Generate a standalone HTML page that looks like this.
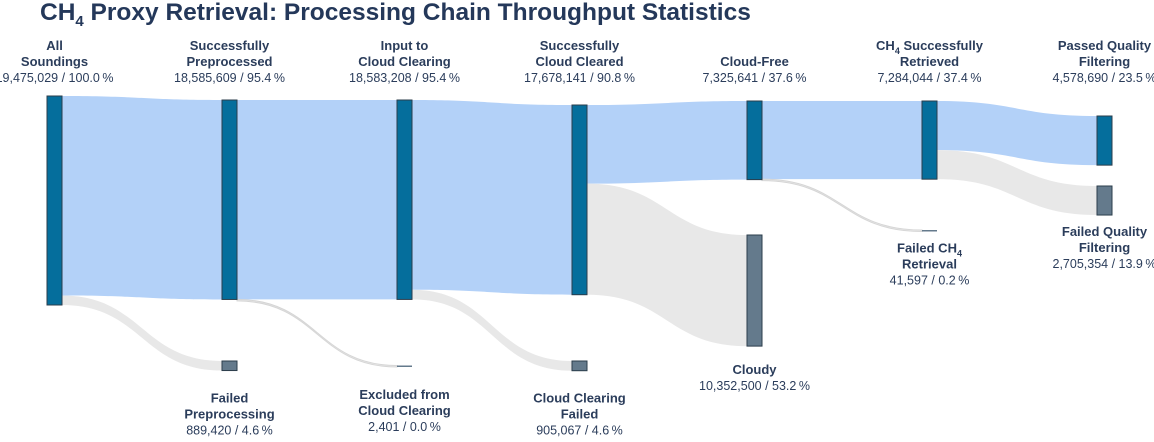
<!DOCTYPE html>
<html><head><meta charset="utf-8"><style>
body{margin:0;background:#fff;width:1154px;height:437px;overflow:hidden;font-family:"Liberation Sans","DejaVu Sans",sans-serif;}
svg text{font-family:"Liberation Sans","DejaVu Sans",sans-serif;fill:#2b3d5b;}
</style></head><body>
<svg id="chart" width="1154" height="437" xmlns="http://www.w3.org/2000/svg">
<text x="40" y="20" font-size="24.5" font-weight="bold" style="fill:#24385a">CH<tspan font-size="15" dy="6">4</tspan><tspan dy="-6"> Proxy Retrieval: Processing Chain Throughput Statistics</tspan></text>
<g id="links"></g><g id="nodes"></g><g id="labels"></g>
</svg>
<script>
const nodeNames=["All|Soundings","Successfully|Preprocessed","Failed|Preprocessing","Input to|Cloud Clearing","Excluded from|Cloud Clearing","Successfully|Cloud Cleared","Cloud Clearing|Failed","Cloud-Free","Cloudy","CH4 Successfully|Retrieved","Failed CH4|Retrieval","Passed Quality|Filtering","Failed Quality|Filtering"];
const nodeValues=[19475029,18585609,889420,18583208,2401,17678141,905067,7325641,10352500,7284044,41597,4578690,2705354];
const nodePct=["100.0","95.4","4.6","95.4","0.0","90.8","4.6","37.6","53.2","37.4","0.2","23.5","13.9"];
const nodeFail=[0,0,1,0,1,0,1,0,1,0,1,0,1];
const linkSource=[0,0,1,1,3,3,5,5,7,7,9,9];
const linkTarget=[1,2,3,4,5,6,7,8,9,10,11,12];
const linkValues=[18585609,889420,18583208,2401,17678141,905067,7325641,10352500,7284044,41597,4578690,2705354];
// layout
const col=[0,1,1,2,2,3,3,4,4,5,5,6,6];
const nodeTop=[96,100,361,100,365.5,105,361,101,235,101,230,116,186];
const labelBelow=[0,0,1,0,1,0,1,0,1,0,1,0,1];
const k=209/19475029, nw=15;
const X=c=>47+c*175;
const H=v=>Math.max(v*k,1.5);
const ns="http://www.w3.org/2000/svg";
function mk(t,a,p){const e=document.createElementNS(ns,t);for(const q in a)e.setAttribute(q,a[q]);p.appendChild(e);return e;}
const outOff=nodeValues.map(()=>0), inOff=nodeValues.map(()=>0);
const gl=document.getElementById('links');
linkValues.forEach((v,i)=>{
 const s=linkSource[i],t=linkTarget[i],w=H(v);
 const x0=X(col[s])+nw,x1=X(col[t]);
 const y0=nodeTop[s]+outOff[s],y1=nodeTop[t]+inOff[t];
 outOff[s]+=v*k;inOff[t]+=v*k;
 const xm=(x0+x1)/2;
 const d=`M${x0},${y0}C${xm},${y0} ${xm},${y1} ${x1},${y1}L${x1},${y1+w}C${xm},${y1+w} ${xm},${y0+w} ${x0},${y0+w}Z`;
 const fail=nodeFail[t];
 const p=mk('path',{d:d,fill:fail?'#e8e8e8':'#b3d1f8',stroke:fail?'#d6d6d6':'none','stroke-width':fail&&w<2?1:0},gl);
 
 
});
const gn=document.getElementById('nodes'),gt=document.getElementById('labels');
nodeValues.forEach((v,i)=>{
 const x=X(col[i]),y=nodeTop[i],h=H(v);
 const r=mk('rect',{x:x,y:y,width:nw,height:h,fill:nodeFail[i]?'#647a8c':'#056e9c',stroke:'#2b3d4b','stroke-width':h>3?1:0},gn);
 
 
 const lines=nodeNames[i].split('|');
 const cx=x+nw/2;
 const valTxt=v.toLocaleString('en-US')+' / '+nodePct[i]+'\u2009%';
 let ys;
 if(labelBelow[i]){const base=y+h+(i==8?28:(i==10||i==12)?21:32);ys=lines.map((_,j)=>base+j*16);}
 else{const last=81;ys=lines.map((_,j)=>last-16*(lines.length-j)+1);}
 lines.forEach((ln,j)=>{
  const t=mk('text',{x:cx,y:ys[j],'text-anchor':'middle','font-size':13,'font-weight':'bold'},gt);
  if(ln.indexOf('CH4')>=0){const parts=ln.split('CH4');t.appendChild(document.createTextNode(parts[0]+'CH'));mk('tspan',{'font-size':9,dy:4},t).textContent='4';mk('tspan',{dy:-4},t).textContent=parts[1];}
  else t.textContent=ln;
  
  
 });
 const vy=ys[ys.length-1]+16;
 const tv=mk('text',{x:cx,y:vy,'text-anchor':'middle','font-size':12.5},gt);
 tv.textContent=valTxt;
 
 
});
</script>
</body></html>
